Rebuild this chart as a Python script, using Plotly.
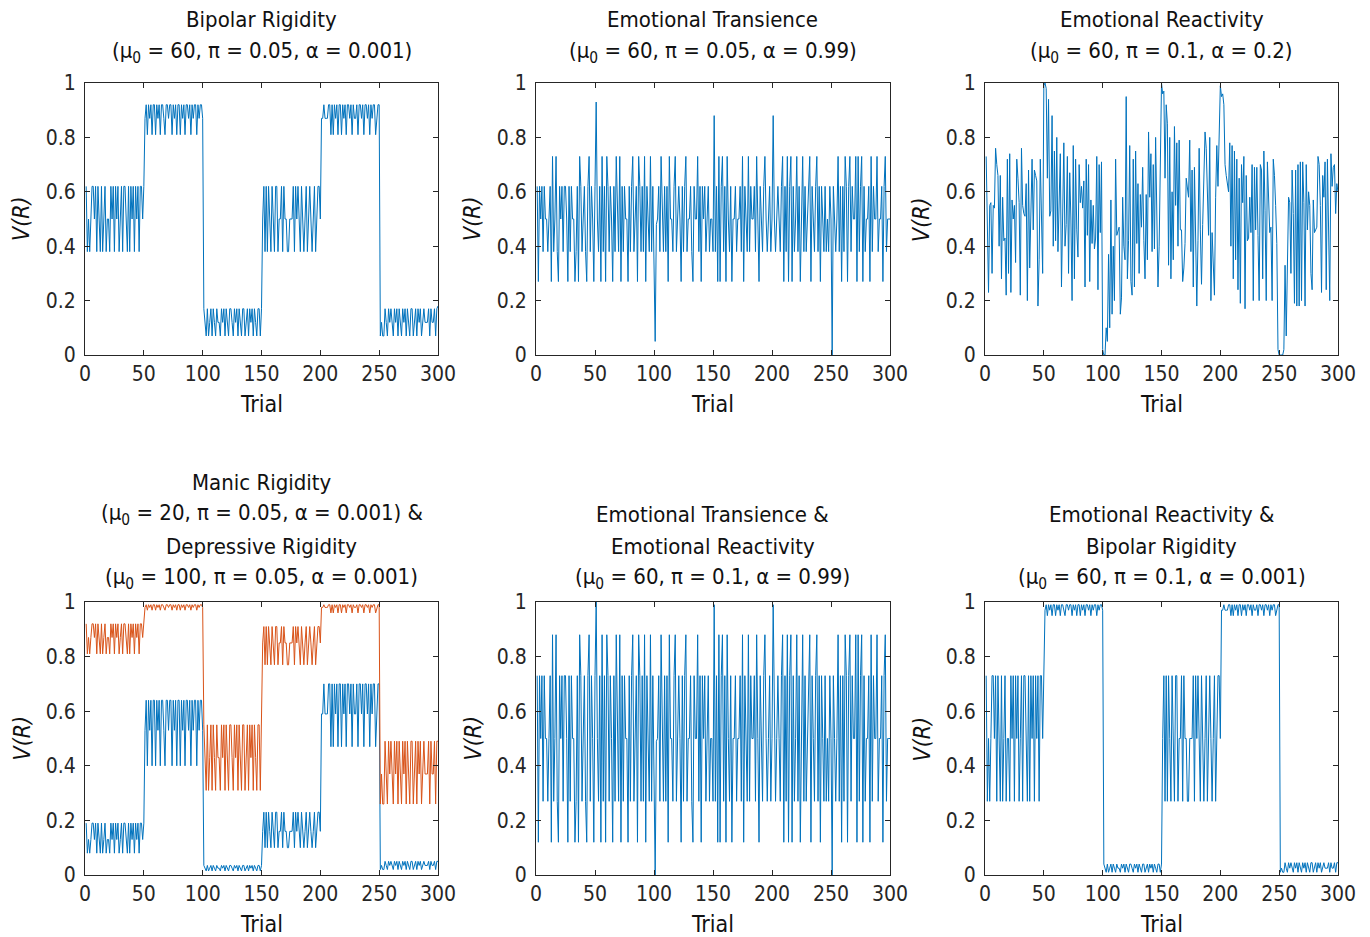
import plotly.graph_objects as go

trials = list(range(1, 301))

bipolar_rigidity = [
    .62,.38,.50,.38,.50,.62,.62,.50,.62,.38,
    .62,.50,.38,.62,.38,.50,.62,.38,.50,.50,
    .38,.62,.50,.62,.38,.62,.50,.62,.38,.50,
    .62,.38,.62,.62,.50,.38,.62,.38,.62,.50,
    .62,.38,.62,.50,.62,.38,.62,.62,.50,.62,
    .87,.92,.81,.92,.87,.92,.81,.92,.92,.81,
    .92,.87,.92,.81,.92,.92,.87,.81,.92,.92,
    .87,.92,.92,.81,.92,.87,.92,.81,.92,.92,
    .81,.92,.87,.92,.81,.92,.92,.87,.92,.81,
    .92,.87,.92,.92,.81,.92,.87,.92,.92,.87,
    .17,.12,.07,.17,.07,.12,.17,.07,.17,.12,
    .07,.17,.12,.12,.07,.17,.12,.17,.07,.17,
    .12,.07,.17,.17,.12,.07,.17,.12,.17,.07,
    .17,.12,.07,.17,.17,.07,.12,.17,.07,.17,
    .12,.17,.07,.17,.12,.07,.17,.17,.07,.17,
    .50,.62,.38,.62,.38,.62,.50,.38,.62,.50,
    .38,.62,.62,.38,.50,.50,.62,.38,.62,.50,
    .50,.38,.38,.50,.50,.50,.62,.38,.62,.50,
    .62,.50,.38,.62,.50,.38,.50,.62,.38,.50,
    .62,.50,.38,.50,.62,.38,.50,.62,.62,.50,
    .87,.87,.92,.87,.87,.87,.92,.92,.81,.92,
    .81,.92,.87,.92,.81,.92,.92,.81,.92,.87,
    .92,.81,.92,.92,.87,.92,.81,.92,.87,.87,
    .92,.81,.92,.92,.87,.92,.81,.92,.92,.87,
    .92,.81,.92,.87,.92,.92,.81,.87,.92,.92,
    .07,.12,.07,.07,.17,.12,.07,.17,.12,.17,
    .12,.07,.17,.12,.17,.07,.17,.12,.07,.17,
    .12,.17,.07,.17,.12,.07,.17,.17,.07,.12,
    .17,.07,.17,.12,.17,.07,.12,.17,.12,.12,
    .12,.17,.07,.17,.12,.12,.17,.07,.17,.18,
]

emotional_transience = [
    .62,.27,.62,.50,.62,.38,.62,.50,.50,.38,
    .50,.62,.27,.73,.38,.50,.73,.38,.27,.62,
    .50,.62,.38,.62,.62,.50,.27,.62,.38,.62,
    .50,.50,.27,.38,.62,.27,.73,.62,.38,.50,
    .62,.38,.27,.62,.73,.38,.62,.50,.27,.62,
    .93,.50,.38,.62,.27,.73,.38,.62,.27,.73,
    .62,.38,.62,.50,.27,.62,.38,.73,.50,.38,
    .73,.27,.62,.38,.62,.50,.50,.27,.62,.38,
    .62,.73,.38,.50,.62,.27,.73,.62,.38,.62,
    .38,.73,.27,.62,.50,.38,.73,.38,.62,.38,
    .05,.48,.50,.62,.38,.73,.50,.38,.62,.38,
    .62,.27,.73,.50,.50,.38,.62,.73,.38,.50,
    .62,.50,.27,.62,.38,.62,.73,.38,.50,.50,
    .62,.38,.27,.62,.50,.50,.73,.38,.62,.27,
    .62,.50,.62,.38,.50,.62,.38,.50,.50,.38,
    .88,.38,.62,.27,.73,.27,.62,.73,.38,.62,
    .27,.73,.50,.38,.62,.27,.50,.50,.62,.38,
    .50,.50,.62,.38,.73,.27,.62,.50,.38,.73,
    .38,.62,.50,.50,.62,.38,.73,.50,.27,.62,
    .50,.38,.62,.73,.50,.38,.50,.62,.38,.50,
    .88,.50,.38,.50,.62,.50,.38,.62,.73,.27,
    .62,.38,.73,.27,.62,.73,.27,.62,.38,.50,
    .73,.38,.62,.27,.50,.73,.38,.62,.38,.50,
    .62,.73,.27,.62,.50,.38,.62,.73,.38,.62,
    .27,.62,.50,.38,.62,.38,.50,.38,.62,.50,
    0.0,.62,.50,.38,.50,.73,.38,.62,.27,.62,
    .38,.73,.62,.27,.62,.73,.38,.62,.50,.50,
    .73,.27,.73,.38,.62,.73,.27,.62,.38,.50,
    .50,.62,.27,.73,.38,.62,.50,.50,.73,.38,
    .50,.50,.62,.27,.62,.73,.38,.50,.50,.50,
]

emotional_reactivity = [
    .73,.48,.23,.55,.56,.30,.55,.54,.76,.70,
    .66,.40,.66,.28,.58,.42,.43,.22,.72,.30,
    .74,.23,.57,.50,.55,.34,.72,.65,.56,.22,
    .76,.55,.52,.51,.63,.20,.68,.32,.53,.72,
    .46,.68,.66,.64,.18,.35,.72,.45,.30,.99,
    1.0,.98,.65,.94,.51,.53,.88,.40,.75,.42,
    .80,.38,.60,.74,.25,.55,.78,.40,.48,.73,
    .30,.67,.50,.20,.77,.28,.72,.46,.36,.70,
    .56,.62,.54,.64,.25,.72,.44,.70,.27,.57,
    .41,.55,.39,.43,.73,.24,.70,.45,.71,.02,
    0.0,0.0,.10,.05,.37,.10,.57,.15,.40,.20,
    .72,.44,.46,.47,.15,.21,.58,.40,.35,.95,
    .28,.42,.77,.27,.22,.72,.25,.75,.41,.63,
    .30,.59,.47,.69,.42,.28,.59,.35,.82,.58,
    .74,.38,.70,.39,.80,.55,.25,.40,.75,1.0,
    .96,.97,.65,.92,.85,.33,.80,.28,.60,.35,
    .84,.55,.78,.40,.79,.46,.46,.27,.32,.41,
    .65,.62,.58,.79,.38,.68,.25,.69,.43,.18,
    .42,.76,.46,.26,.48,.69,.82,.76,.56,.44,
    .80,.20,.45,.33,.22,.58,.77,.62,.85,.99,
    .95,.96,.92,.70,.66,.62,.60,.78,.40,.77,
    .28,.75,.35,.72,.24,.65,.19,.70,.56,.73,
    .17,.66,.42,.43,.58,.45,.70,.20,.69,.46,
    .69,.44,.20,.70,.68,.28,.75,.53,.20,.71,
    .60,.45,.47,.20,.72,.66,.55,.41,.02,0.0,
    0.0,0.0,0.0,.02,.33,.07,.27,.58,.56,.30,
    .68,.52,.19,.68,.18,.70,.18,.71,.20,.71,
    .56,.18,.70,.46,.60,.55,.30,.24,.57,.45,
    .46,.47,.73,.70,.55,.23,.66,.58,.71,.24,
    .72,.44,.20,.74,.62,.69,.70,.52,.63,.60,
]

manic_rigidity = [
    .19,.08,.13,.08,.13,.19,.19,.13,.19,.08,
    .19,.13,.08,.19,.08,.13,.19,.08,.13,.13,
    .08,.19,.13,.19,.08,.19,.13,.19,.08,.13,
    .19,.08,.19,.19,.13,.08,.19,.08,.19,.13,
    .19,.08,.19,.13,.19,.08,.19,.19,.13,.19,
    .53,.64,.40,.64,.53,.64,.40,.64,.64,.40,
    .64,.53,.64,.40,.64,.64,.53,.40,.64,.64,
    .53,.64,.64,.40,.64,.53,.64,.40,.64,.64,
    .40,.64,.53,.64,.40,.64,.64,.53,.64,.40,
    .64,.53,.64,.64,.40,.64,.53,.64,.64,.53,
    .035,.025,.015,.035,.015,.025,.035,.015,.035,.025,
    .015,.035,.025,.025,.015,.035,.025,.035,.015,.035,
    .025,.015,.035,.035,.025,.015,.035,.025,.035,.015,
    .035,.025,.015,.035,.035,.015,.025,.035,.015,.035,
    .025,.035,.015,.035,.025,.015,.035,.035,.015,.035,
    .16,.23,.10,.23,.10,.23,.16,.10,.23,.16,
    .10,.23,.23,.10,.16,.16,.23,.10,.23,.16,
    .16,.10,.10,.16,.16,.16,.23,.10,.23,.16,
    .23,.16,.10,.23,.16,.10,.16,.23,.10,.16,
    .23,.16,.10,.16,.23,.10,.16,.23,.23,.16,
    .59,.59,.70,.59,.59,.59,.70,.70,.47,.70,
    .47,.70,.59,.70,.47,.70,.70,.47,.70,.59,
    .70,.47,.70,.70,.59,.70,.47,.70,.59,.59,
    .70,.47,.70,.70,.59,.70,.47,.70,.70,.59,
    .70,.47,.70,.59,.70,.70,.47,.59,.70,.70,
    .02,.035,.02,.02,.05,.035,.02,.05,.035,.05,
    .035,.02,.05,.035,.05,.02,.05,.035,.02,.05,
    .035,.05,.02,.05,.035,.02,.05,.05,.02,.035,
    .05,.02,.05,.035,.05,.02,.035,.05,.035,.035,
    .035,.05,.02,.05,.035,.035,.05,.02,.05,.05,
]

depressive_rigidity = [
    .92,.81,.87,.81,.87,.92,.92,.87,.92,.81,
    .92,.87,.81,.92,.81,.87,.92,.81,.87,.87,
    .81,.92,.87,.92,.81,.92,.87,.92,.81,.87,
    .92,.81,.92,.92,.87,.81,.92,.81,.92,.87,
    .92,.81,.92,.87,.92,.81,.92,.92,.87,.92,
    .98,.99,.97,.99,.98,.99,.97,.99,.99,.97,
    .99,.98,.99,.97,.99,.99,.98,.97,.99,.99,
    .98,.99,.99,.97,.99,.98,.99,.97,.99,.99,
    .97,.99,.98,.99,.97,.99,.99,.98,.99,.97,
    .99,.98,.99,.99,.97,.99,.98,.99,.99,.98,
    .55,.43,.31,.55,.31,.43,.55,.31,.55,.43,
    .31,.55,.43,.43,.31,.55,.43,.55,.31,.55,
    .43,.31,.55,.55,.43,.31,.55,.43,.55,.31,
    .55,.43,.31,.55,.55,.31,.43,.55,.31,.55,
    .43,.55,.31,.55,.43,.31,.55,.55,.31,.55,
    .85,.91,.77,.91,.77,.91,.85,.77,.91,.85,
    .77,.91,.91,.77,.85,.85,.91,.77,.91,.85,
    .85,.77,.77,.85,.85,.85,.91,.77,.91,.85,
    .91,.85,.77,.91,.85,.77,.85,.91,.77,.85,
    .91,.85,.77,.85,.91,.77,.85,.91,.91,.85,
    .98,.98,.99,.98,.98,.98,.99,.99,.96,.99,
    .96,.99,.98,.99,.96,.99,.99,.96,.99,.98,
    .99,.96,.99,.99,.98,.99,.96,.99,.98,.98,
    .99,.96,.99,.99,.98,.99,.96,.99,.99,.98,
    .99,.96,.99,.98,.99,.99,.96,.98,.99,.99,
    .26,.37,.26,.26,.49,.37,.26,.49,.37,.49,
    .37,.26,.49,.37,.49,.26,.49,.37,.26,.49,
    .37,.49,.26,.49,.37,.26,.49,.49,.26,.37,
    .49,.26,.49,.37,.49,.26,.37,.49,.37,.37,
    .37,.49,.26,.49,.37,.37,.49,.26,.49,.49,
]

transience_reactivity = [
    .73,.12,.73,.50,.73,.27,.73,.50,.50,.27,
    .50,.73,.12,.88,.27,.50,.88,.27,.12,.73,
    .50,.73,.27,.73,.73,.50,.12,.73,.27,.73,
    .50,.50,.12,.27,.73,.12,.88,.73,.27,.50,
    .73,.27,.12,.73,.88,.27,.73,.50,.12,.73,
    1.0,.50,.27,.73,.12,.88,.27,.73,.12,.88,
    .73,.27,.73,.50,.12,.73,.27,.88,.50,.27,
    .88,.12,.73,.27,.73,.50,.50,.12,.73,.27,
    .73,.88,.27,.50,.73,.12,.88,.73,.27,.73,
    .27,.88,.12,.73,.50,.27,.88,.27,.73,.27,
    0.0,.49,.50,.73,.27,.88,.50,.27,.73,.27,
    .73,.12,.88,.50,.50,.27,.73,.88,.27,.50,
    .73,.50,.12,.73,.27,.73,.88,.27,.50,.50,
    .73,.27,.12,.73,.50,.50,.88,.27,.73,.12,
    .73,.50,.73,.27,.50,.73,.27,.50,.50,.27,
    .99,.27,.73,.12,.88,.12,.73,.88,.27,.73,
    .12,.88,.50,.27,.73,.12,.50,.50,.73,.27,
    .50,.50,.73,.27,.88,.12,.73,.50,.27,.88,
    .27,.73,.50,.50,.73,.27,.88,.50,.12,.73,
    .50,.27,.73,.88,.50,.27,.50,.73,.27,.50,
    .99,.50,.27,.50,.73,.50,.27,.73,.88,.12,
    .73,.27,.88,.12,.73,.88,.12,.73,.27,.50,
    .88,.27,.73,.12,.50,.88,.27,.73,.27,.50,
    .73,.88,.12,.73,.50,.27,.73,.88,.27,.73,
    .12,.73,.50,.27,.73,.27,.50,.27,.73,.50,
    0.0,.73,.50,.27,.50,.88,.27,.73,.12,.73,
    .27,.88,.73,.12,.73,.88,.27,.73,.50,.50,
    .88,.12,.88,.27,.73,.88,.12,.73,.27,.50,
    .50,.73,.12,.88,.27,.73,.50,.50,.88,.27,
    .50,.50,.73,.12,.73,.88,.27,.50,.50,.50,
]

reactivity_bipolar = [
    .73,.27,.50,.27,.50,.73,.73,.50,.73,.27,
    .73,.50,.27,.73,.27,.50,.73,.27,.50,.50,
    .27,.73,.50,.73,.27,.73,.50,.73,.27,.50,
    .73,.27,.73,.73,.50,.27,.73,.27,.73,.50,
    .73,.27,.73,.50,.73,.27,.73,.73,.50,.73,
    .97,.99,.95,.99,.97,.99,.95,.99,.99,.95,
    .99,.97,.99,.95,.99,.99,.97,.95,.99,.99,
    .97,.99,.99,.95,.99,.97,.99,.95,.99,.99,
    .95,.99,.97,.99,.95,.99,.99,.97,.99,.95,
    .99,.97,.99,.99,.95,.99,.97,.99,.99,.97,
    .04,.025,.01,.04,.01,.025,.04,.01,.04,.025,
    .01,.04,.025,.025,.01,.04,.025,.04,.01,.04,
    .025,.01,.04,.04,.025,.01,.04,.025,.04,.01,
    .04,.025,.01,.04,.04,.01,.025,.04,.01,.04,
    .025,.04,.01,.04,.025,.01,.04,.04,.01,.04,
    .50,.73,.27,.73,.27,.73,.50,.27,.73,.50,
    .27,.73,.73,.27,.50,.50,.73,.27,.73,.50,
    .50,.27,.27,.50,.50,.50,.73,.27,.73,.50,
    .73,.50,.27,.73,.50,.27,.50,.73,.27,.50,
    .73,.50,.27,.50,.73,.27,.50,.73,.73,.50,
    .97,.97,.99,.97,.97,.97,.99,.99,.95,.99,
    .95,.99,.97,.99,.95,.99,.99,.95,.99,.97,
    .99,.95,.99,.99,.97,.99,.95,.99,.97,.97,
    .99,.95,.99,.99,.97,.99,.95,.99,.99,.97,
    .99,.95,.99,.97,.99,.99,.95,.97,.99,.99,
    .01,.025,.01,.01,.045,.025,.01,.045,.025,.045,
    .025,.01,.045,.025,.045,.01,.045,.025,.01,.045,
    .025,.045,.01,.045,.025,.01,.045,.045,.01,.025,
    .045,.01,.045,.025,.045,.01,.025,.045,.025,.025,
    .025,.045,.01,.045,.025,.025,.045,.01,.045,.045,
]

x_ticks = [0, 50, 100, 150, 200, 250, 300]
y_ticks = [0, 0.2, 0.4, 0.6, 0.8, 1]
y_tick_labels = ["0", "0.2", "0.4", "0.6", "0.8", "1"]

title_lines = [
    ["Bipolar Rigidity", "(μ<sub>0</sub> = 60, π = 0.05, α = 0.001)"],
    ["Emotional Transience", "(μ<sub>0</sub> = 60, π = 0.05, α = 0.99)"],
    ["Emotional Reactivity", "(μ<sub>0</sub> = 60, π = 0.1, α = 0.2)"],
    ["Manic Rigidity", "(μ<sub>0</sub> = 20, π = 0.05, α = 0.001) &amp;",
     "Depressive Rigidity", "(μ<sub>0</sub> = 100, π = 0.05, α = 0.001)"],
    ["Emotional Transience &amp;", "Emotional Reactivity",
     "(μ<sub>0</sub> = 60, π = 0.1, α = 0.99)"],
    ["Emotional Reactivity &amp;", "Bipolar Rigidity",
     "(μ<sub>0</sub> = 60, π = 0.1, α = 0.001)"],
]

BLUE = "#0072BD"
ORANGE = "#D95319"
AXC = "#262626"
FONT = "Liberation Sans Narrow, Arial Narrow, DejaVu Sans Condensed, sans-serif"

series = [
    [(bipolar_rigidity, BLUE)],
    [(emotional_transience, BLUE)],
    [(emotional_reactivity, BLUE)],
    [(manic_rigidity, BLUE), (depressive_rigidity, ORANGE)],
    [(transience_reactivity, BLUE)],
    [(reactivity_bipolar, BLUE)],
]

W, H = 1370, 937
xpx = [(85, 438), (536, 890), (985, 1338)]
ypx = [(83, 355), (602, 875)]
last_line_gap = [31, 24]
line_step = 32

fig = go.Figure()
annotations = []
layout = {}
for i in range(6):
    r, c = divmod(i, 3)
    n = "" if i == 0 else str(i + 1)
    xd = [xpx[c][0] / W, xpx[c][1] / W]
    yd = [(H - ypx[r][1]) / H, (H - ypx[r][0]) / H]
    for vals, col in series[i]:
        fig.add_trace(go.Scatter(x=trials[:len(vals)], y=vals, mode="lines",
                                 line=dict(color=col, width=1),
                                 xaxis="x" + n, yaxis="y" + n,
                                 hoverinfo="skip", showlegend=False))
    common = dict(showline=True, mirror="ticks", linecolor=AXC, linewidth=1,
                  ticks="inside", ticklen=5, tickcolor=AXC, tickwidth=1,
                  showgrid=False, zeroline=False, automargin=False,
                  tickfont=dict(family=FONT, size=21, color=AXC))
    layout["xaxis" + n] = dict(domain=xd, anchor="y" + n, range=[0, 300],
                               tickvals=x_ticks, ticklabelstandoff=0, **common)
    layout["yaxis" + n] = dict(domain=yd, anchor="x" + n, range=[0, 1],
                               tickvals=y_ticks, ticktext=y_tick_labels,
                               ticklabelstandoff=4, **common)
    cx = (xd[0] + xd[1]) / 2
    lines = title_lines[i]
    nl = len(lines)
    for k, txt in enumerate(lines):
        ypix = ypx[r][0] - last_line_gap[r] - (nl - 1 - k) * line_step
        annotations.append(dict(text=txt, x=cx, y=(H - ypix) / H,
                                xref="paper", yref="paper",
                                xanchor="center", yanchor="middle", showarrow=False,
                                font=dict(family=FONT, size=22, color="#111111")))
    annotations.append(dict(text="Trial", x=cx, y=yd[0], xref="paper", yref="paper",
                            xanchor="center", yanchor="middle", showarrow=False,
                            yshift=-49,
                            font=dict(family=FONT, size=23, color="#111111")))
    annotations.append(dict(text="<i>V(R)</i>", x=xd[0], y=(yd[0] + yd[1]) / 2,
                            xref="paper", yref="paper", xanchor="center",
                            yanchor="middle", showarrow=False, textangle=-90,
                            xshift=-64,
                            font=dict(family=FONT, size=23, color="#111111")))

fig.update_layout(width=W, height=H, margin=dict(l=0, r=0, t=0, b=0),
                  paper_bgcolor="white", plot_bgcolor="white",
                  showlegend=False, annotations=annotations,
                  font=dict(family=FONT), **layout)
fig.write_html("out.html")
